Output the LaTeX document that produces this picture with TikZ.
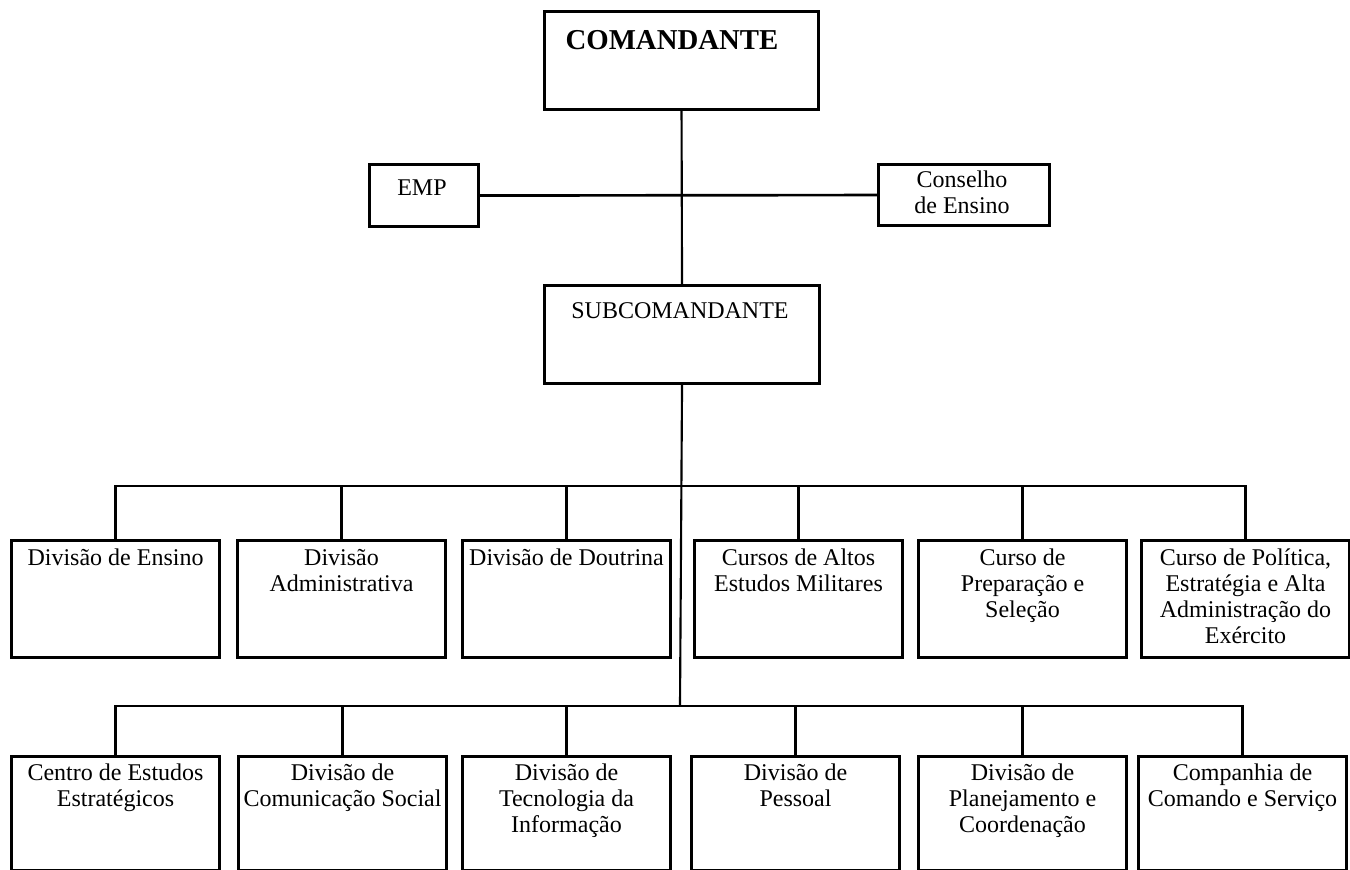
\documentclass[tikz,border=0pt]{standalone}
\usepackage{fontspec}
\setmainfont{Liberation Serif}
\usetikzlibrary{calc}
\begin{document}
\begin{tikzpicture}[x=0.75pt,y=-0.75pt,
  box/.style={draw, line width=2.3pt, rectangle, inner sep=0pt, anchor=north west},
  rowone/.style={box, minimum width=156pt, minimum height=87.75pt},
  rowtwo/.style={box, minimum width=156pt, minimum height=85.5pt},
  lbl/.style={inner sep=0pt, align=center, font=\fontsize{18}{19.5}\selectfont},
  conn/.style={line width=1.6pt},
  bus/.style={line width=2pt}]
\useasboundingbox (0,0) rectangle (1350,869);

% top boxes
\node[box, minimum width=205.5pt, minimum height=73.5pt] (cmd) at (543,10) {};
\node[box, minimum width=81.75pt, minimum height=46.5pt] (emp) at (368,163) {};
\node[box, minimum width=128.25pt, minimum height=45.75pt] (cons) at (877,163) {};
\node[box, minimum width=206.25pt, minimum height=73.5pt] (sub) at (543,284) {};

\node[lbl, font=\bfseries\fontsize{21.6}{24}\selectfont, anchor=base] (tcmd) at (672,49.5) {COMANDANTE};
\node[lbl, anchor=base] (temp) at (422,195) {EMP};
\node[lbl, anchor=north] (tcons) at (962,169) {\strut Conselho\\de Ensino};
\node[lbl, anchor=base] (tsub) at (680,318) {SUBCOMANDANTE};

% row 1
\node[rowone] (r1a) at (10,539) {};
\node[rowone] (r1b) at (236,539) {};
\node[rowone] (r1c) at (461,539) {};
\node[rowone] (r1d) at (693,539) {};
\node[rowone] (r1e) at (917,539) {};
\node[rowone] (r1f) at (1140,539) {};

\node[lbl, anchor=north] (t1a) at ($(r1a.north)+(0,8)$) {\strut Divisão de Ensino};
\node[lbl, anchor=north] (t1b) at ($(r1b.north)+(0,8)$) {\strut Divisão\\Administrativa};
\node[lbl, anchor=north] (t1c) at ($(r1c.north)+(0,8)$) {\strut Divisão de Doutrina};
\node[lbl, anchor=north] (t1d) at ($(r1d.north)+(0,8)$) {\strut Cursos de Altos\\Estudos Militares};
\node[lbl, anchor=north] (t1e) at ($(r1e.north)+(0,8)$) {\strut Curso de\\Preparação e\\Seleção};
\node[lbl, anchor=north] (t1f) at ($(r1f.north)+(0,8)$) {\strut Curso de Política,\\Estratégia e Alta\\Administração do\\Exército};

% row 2
\node[rowtwo] (r2a) at (10,755) {};
\node[rowtwo] (r2b) at (237,755) {};
\node[rowtwo] (r2c) at (461,755) {};
\node[rowtwo] (r2d) at (690,755) {};
\node[rowtwo] (r2e) at (917,755) {};
\node[rowtwo] (r2f) at (1137,755) {};

\node[lbl, anchor=north] (t2a) at ($(r2a.north)+(0,7)$) {\strut Centro de Estudos\\Estratégicos};
\node[lbl, anchor=north] (t2b) at ($(r2b.north)+(0,7)$) {\strut Divisão de\\Comunicação Social};
\node[lbl, anchor=north] (t2c) at ($(r2c.north)+(0,7)$) {\strut Divisão de\\Tecnologia da\\Informação};
\node[lbl, anchor=north] (t2d) at ($(r2d.north)+(0,7)$) {\strut Divisão de\\Pessoal};
\node[lbl, anchor=north] (t2e) at ($(r2e.north)+(0,7)$) {\strut Divisão de\\Planejamento e\\Coordenação};
\node[lbl, anchor=north] (t2f) at ($(r2f.north)+(0,7)$) {\strut Companhia de\\Comando e Serviço};

% connectors
\coordinate (j1) at (680,486);
\coordinate (j2) at (680,706);
\draw[conn] (cmd.south) -- (sub.north);
\draw[bus] (emp.east) -- (cons.west);
\draw[conn] (sub.south) -- (j2);

\draw[bus] (r1a.north) |- (j1) -| (r1f.north);
\foreach \n in {r1b,r1c,r1d,r1e} \draw[bus] (\n.north) -- (\n.north |- j1);

\draw[bus] (r2a.north) |- (j2) -| (r2f.north);
\foreach \n in {r2b,r2c,r2d,r2e} \draw[bus] (\n.north) -- (\n.north |- j2);
\end{tikzpicture}
\end{document}
